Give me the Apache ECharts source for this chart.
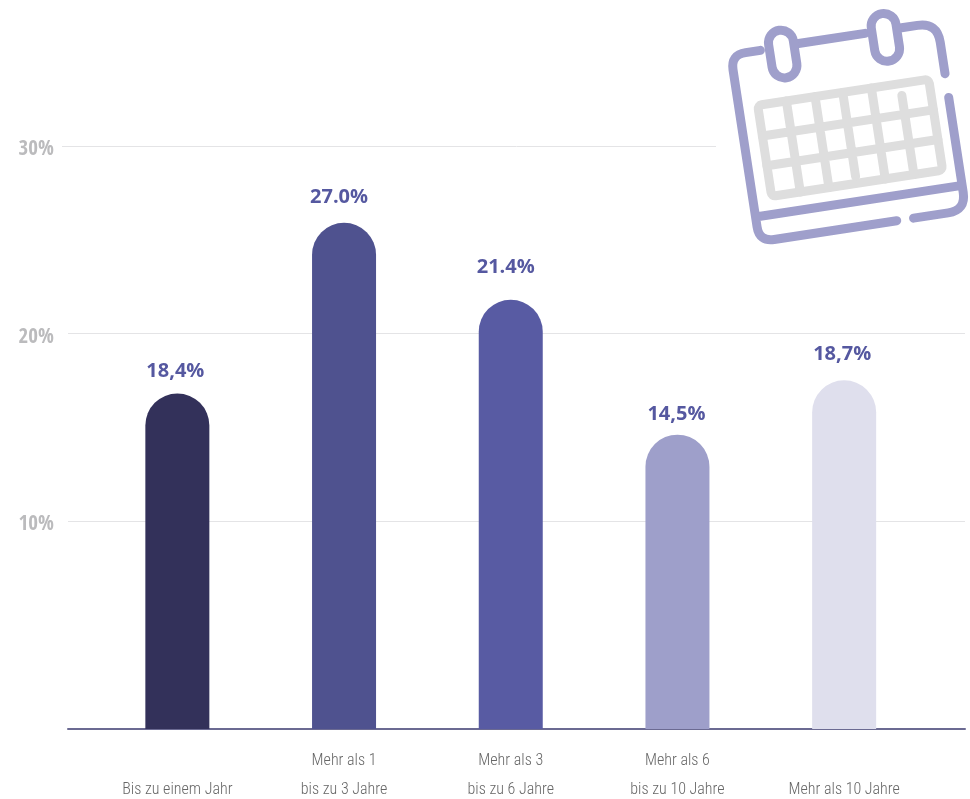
<!DOCTYPE html>
<html>
<head>
<meta charset="utf-8">
<style>html,body{margin:0;padding:0;background:#fff}</style>
</head>
<body>
<div id="main" style="width:970px;height:799px"></div>
<script src="https://cdn.jsdelivr.net/npm/echarts@6/dist/echarts.min.js"></script>
<script>
var categories = ['\nBis zu einem Jahr', 'Mehr als 1\nbis zu 3 Jahre', 'Mehr als 3\nbis zu 6 Jahre', 'Mehr als 6\nbis zu 10 Jahre', '\nMehr als 10 Jahre'];
// bar heights measured from the baseline, in the units of the gridlines
var barValues = [17.9, 27.0, 22.9, 15.7, 18.6];
var valueLabels = ['18,4%', '27.0%', '21.4%', '14,5%', '18,7%'];
var barColors = ['#33315a', '#4f528f', '#585ba3', '#9e9fca', '#dfdfed'];
var labelGaps = [12, 16, 22, 10, 16];
var labelShifts = [-2, -5, -5, -1, -2];
var yTicks = [10, 20, 30];

var chart = echarts.init(document.getElementById('main'));

// calendar icon, local coords around its centre
echarts.graphic.registerShape('calFrame', echarts.graphic.extendPath(
    'M-75 -89 L-90 -89 Q-105 -89 -105 -74 L-105 85 Q-105 100 -90 100 L34 100 ' +
    'M51 100 L86 100 Q104 100 104 82 L104 -14 M-38 -90 L31 -90 ' +
    'M68 -90 L84 -90 Q104 -90 104 -70 L104 -38 M-105 75 L104 75', {}));
echarts.graphic.registerShape('calCells', echarts.graphic.extendPath(
    'M-86 -4 L87 -4 M-86 26 L87 26 M-57 -35 L-57 57 M-28 -35 L-28 57 ' +
    'M0 -35 L0 50 M29 -35 L29 57 M58 -23 L58 57', {}));

chart.setOption({
    animation: false,
    grid: [
        {left: 68, right: 5, top: 146, bottom: 70, outerBoundsMode: 'none'},
        {left: 94, width: 833.5, top: 146, bottom: 70, outerBoundsMode: 'none'}
    ],
    xAxis: [{
        gridIndex: 0,
        type: 'category',
        data: [],
        axisLine: {onZero: false, lineStyle: {color: '#6b6a92', width: 2}},
        axisTick: {show: false},
        axisLabel: {show: false}
    }, {
        gridIndex: 1,
        type: 'category',
        data: categories,
        axisLine: {show: false},
        axisTick: {show: false},
        axisLabel: {
            interval: 0,
            margin: 17,
            color: '#666',
            fontFamily: '"Roboto Condensed", "Open Sans", sans-serif',
            fontWeight: 300,
            fontSize: 16,
            lineHeight: 29
        }
    }],
    yAxis: [{
        gridIndex: 0,
        type: 'value',
        min: -1.1,
        max: 30,
        axisLine: {show: false},
        axisTick: {show: false, customValues: yTicks},
        splitLine: {show: true, lineStyle: {color: '#e4e4e6', width: 1}},
        axisLabel: {
            customValues: yTicks,
            margin: 14,
            verticalAlign: 'top',
            lineHeight: 8,
            color: '#bbbbbd',
            fontWeight: 'bold',
            fontFamily: '"Open Sans Condensed", "Open Sans", sans-serif',
            fontSize: 21,
            formatter: '{value}%'
        }
    }, {
        gridIndex: 1,
        type: 'value',
        min: 0,
        max: 31.1,
        show: false
    }],
    series: [{
        type: 'bar',
        xAxisIndex: 1,
        yAxisIndex: 1,
        barWidth: 64,
        z: 5,
        data: barValues.map(function (v, i) {
            return {
                value: v,
                itemStyle: {color: barColors[i], borderRadius: [32, 32, 0, 0]},
                label: {
                    show: true,
                    position: 'top',
                    distance: labelGaps[i],
                    offset: [labelShifts[i], 0],
                    formatter: valueLabels[i],
                    color: '#5558a0',
                    fontFamily: '"Open Sans", sans-serif',
                    fontWeight: 700,
                    fontSize: 20
                }
            };
        })
    }],
    graphic: [{
        type: 'rect',
        z: 10,
        shape: {x: 716, y: 130, width: 254, height: 30},
        style: {fill: '#fff'}
    }, {
        type: 'line',
        z: 10,
        shape: {x1: 62, y1: 146.5, x2: 68, y2: 146.5},
        style: {stroke: '#e4e4e6', lineWidth: 1}
    }, {
        type: 'group',
        z: 11,
        x: 848,
        y: 127,
        rotation: 8.7 * Math.PI / 180,
        children: [{
            type: 'rect',
            z: 11,
            shape: {x: -86, y: -35, width: 173, height: 92, r: 4},
            style: {fill: 'none', stroke: '#dedede', lineWidth: 9}
        }, {
            type: 'calCells',
            z: 11,
            shape: {},
            style: {fill: 'none', stroke: '#dedede', lineWidth: 9, lineCap: 'round'}
        }, {
            type: 'calFrame',
            z: 12,
            shape: {},
            style: {fill: 'none', stroke: '#9f9fcb', lineWidth: 9, lineCap: 'round'}
        }, {
            type: 'rect',
            z: 12,
            shape: {x: -66, y: -106, width: 25, height: 48, r: 12.5},
            style: {fill: 'none', stroke: '#9f9fcb', lineWidth: 9}
        }, {
            type: 'rect',
            z: 12,
            shape: {x: 38, y: -107, width: 25, height: 48, r: 12.5},
            style: {fill: 'none', stroke: '#9f9fcb', lineWidth: 9}
        }]
    }]
});
</script>
</body>
</html>
